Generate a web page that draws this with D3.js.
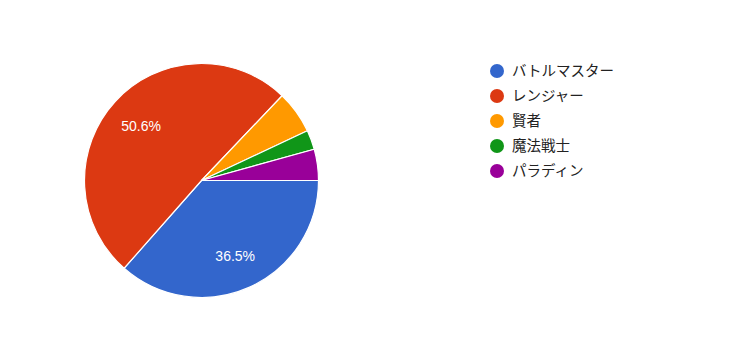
<!DOCTYPE html>
<html><head><meta charset="utf-8">
<script src="https://cdn.jsdelivr.net/npm/d3@7"></script>
<style>body{margin:0;background:#fff}</style>
</head><body>
<svg id="c" width="735" height="339"></svg>
<script>
const categories = ["バトルマスター","レンジャー","賢者","魔法戦士","パラディン"];
const values = [36.5, 50.6, 5.9, 2.7, 4.3];
const colors = ["#3366cc","#dc3912","#ff9900","#109618","#990099"];

const svg = d3.select("#c");
const cx = 201.5, cy = 180.5, R = 117;
const data = categories.map((c,i)=>({cat:c, value:values[i], color:colors[i]}));
const total = d3.sum(values);
const pie = d3.pie().value(d=>d.value).sort(null).startAngle(Math.PI/2).endAngle(Math.PI/2+2*Math.PI);
const arcs = pie(data);
const arc = d3.arc().innerRadius(0).outerRadius(R);
const labelArc = d3.arc().innerRadius(R*0.7).outerRadius(R*0.7);
const g = svg.append("g").attr("transform",`translate(${cx},${cy})`);
g.selectAll("path").data(arcs).join("path")
  .attr("d",arc).attr("fill",d=>d.data.color)
  .attr("stroke","#fff").attr("stroke-width",1.2);
g.selectAll("text").data(arcs.filter(d=>d.data.value/total>0.1)).join("text")
  .attr("transform",d=>`translate(${labelArc.centroid(d)})`)
  .attr("text-anchor","middle").attr("dy","0.4em")
  .attr("fill","#fff").style("font-family","Arial, 'Liberation Sans', sans-serif")
  .style("font-size","14px")
  .text(d=>(d.data.value/total*100).toFixed(1)+"%");

const leg = svg.append("g");
const ly = d3.scalePoint().domain(categories).range([71,171]);
const items = leg.selectAll("g").data(data).join("g").attr("transform",d=>`translate(497,${ly(d.cat)})`);
items.append("circle").attr("r",7).attr("fill",d=>d.color);
items.append("text").attr("x",15).attr("dy","0.36em").attr("fill","#222")
  .style("font-family","'Noto Sans CJK JP', sans-serif").style("font-size","14.5px")
  .text(d=>d.cat);
</script>
</body></html>
